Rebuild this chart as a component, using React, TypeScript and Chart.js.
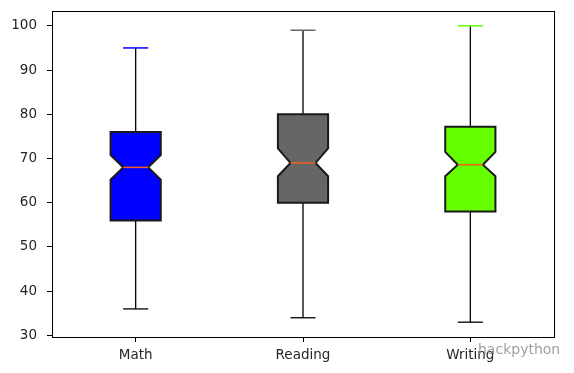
import React, { useEffect, useRef } from "react";
import { Chart, registerables } from "chart.js";

Chart.register(...registerables);

const categories = ["Math", "Reading", "Writing"];
const whiskerLow = [36, 34, 33];
const q1 = [56, 60, 58];
const notchLow = [65.2, 66, 66];
const median = [68, 69, 68.6];
const notchHigh = [70.8, 72.3, 71.5];
const q3 = [76, 80, 77.2];
const whiskerHigh = [95, 99, 100];
const fillColors = ["#0000ff", "#666666", "#66ff00"];
const yTicks = [30, 40, 50, 60, 70, 80, 90, 100];

const BOX_W = 0.3;

const boxPlugin = {
  id: "boxPlugin",
  afterDatasetsDraw(chart: any) {
    const { ctx, chartArea, scales } = chart;
    const xs = scales.x;
    const ys = scales.y;
    ctx.save();
    categories.forEach((_, i) => {
      const pos = i + 1;
      const cx = xs.getPixelForValue(pos);
      const xl = xs.getPixelForValue(pos - BOX_W / 2);
      const xr = xs.getPixelForValue(pos + BOX_W / 2);
      const nl = xs.getPixelForValue(pos - BOX_W / 4);
      const nr = xs.getPixelForValue(pos + BOX_W / 4);
      const cl = xs.getPixelForValue(pos - BOX_W / 4);
      const cr = xs.getPixelForValue(pos + BOX_W / 4);
      const yQ1 = ys.getPixelForValue(q1[i]);
      const yQ3 = ys.getPixelForValue(q3[i]);
      const yMed = ys.getPixelForValue(median[i]);
      const yNL = ys.getPixelForValue(notchLow[i]);
      const yNH = ys.getPixelForValue(notchHigh[i]);
      const yLo = ys.getPixelForValue(whiskerLow[i]);
      const yHi = ys.getPixelForValue(whiskerHigh[i]);

      // whiskers
      ctx.strokeStyle = "#000";
      ctx.lineWidth = 1.3;
      ctx.beginPath();
      ctx.moveTo(cx, yQ3);
      ctx.lineTo(cx, yHi);
      ctx.moveTo(cx, yQ1);
      ctx.lineTo(cx, yLo);
      ctx.stroke();
      // bottom cap
      ctx.beginPath();
      ctx.moveTo(cl, yLo);
      ctx.lineTo(cr, yLo);
      ctx.stroke();
      // top cap colored
      ctx.strokeStyle = fillColors[i];
      ctx.lineWidth = 1.5;
      ctx.beginPath();
      ctx.moveTo(cl, yHi);
      ctx.lineTo(cr, yHi);
      ctx.stroke();

      // notched box
      ctx.beginPath();
      ctx.moveTo(xl, yQ1);
      ctx.lineTo(xr, yQ1);
      ctx.lineTo(xr, yNL);
      ctx.lineTo(nr, yMed);
      ctx.lineTo(xr, yNH);
      ctx.lineTo(xr, yQ3);
      ctx.lineTo(xl, yQ3);
      ctx.lineTo(xl, yNH);
      ctx.lineTo(nl, yMed);
      ctx.lineTo(xl, yNL);
      ctx.closePath();
      ctx.fillStyle = fillColors[i];
      ctx.fill();
      ctx.strokeStyle = "#1a1a1a";
      ctx.lineWidth = 2;
      ctx.lineJoin = "miter";
      ctx.stroke();

      // median
      ctx.strokeStyle = "#f0601c";
      ctx.lineWidth = 1.5;
      ctx.beginPath();
      ctx.moveTo(nl, yMed);
      ctx.lineTo(nr, yMed);
      ctx.stroke();
    });

    // frame
    ctx.strokeStyle = "#000";
    ctx.lineWidth = 1;
    ctx.strokeRect(
      Math.round(chartArea.left) + 0.5,
      Math.round(chartArea.top) + 0.5,
      Math.round(chartArea.right - chartArea.left),
      Math.round(chartArea.bottom - chartArea.top)
    );

    // watermark
    ctx.font = "14px 'DejaVu Sans'";
    ctx.fillStyle = "rgba(150,150,150,0.9)";
    ctx.textBaseline = "middle";
    ctx.fillText("hackpython", 478, 350);
    ctx.restore();
  },
};

export default function App() {
  const ref = useRef<HTMLCanvasElement | null>(null);
  useEffect(() => {
    if (!ref.current) return;
    const font = { family: "'DejaVu Sans'", size: 13.5 };
    const chart = new Chart(ref.current, {
      type: "scatter",
      data: { datasets: [{ data: [], pointRadius: 0 }] },
      options: {
        animation: false,
        responsive: false,
        layout: { padding: { left: 0, right: 20, top: 11, bottom: 0 } },
        plugins: { legend: { display: false }, tooltip: { enabled: false } },
        scales: {
          x: {
            type: "linear",
            min: 0.5,
            max: 3.5,
            afterBuildTicks: (s: any) => {
              s.ticks = categories.map((_, i) => ({ value: i + 1 }));
            },
            afterFit: (s: any) => {
              s.height = 36;
              s.paddingLeft = 0;
              s.paddingRight = 0;
            },
            grid: { drawOnChartArea: false, drawTicks: true, tickLength: 5, color: "#000" },
            border: { display: true, color: "#000" },
            ticks: {
              font,
              color: "#262626",
              padding: 5,
              maxRotation: 0,
              callback: (v: any) => categories[Math.round(Number(v)) - 1] ?? "",
            },
          },
          y: {
            type: "linear",
            min: 29.65,
            max: 103.35,
            afterBuildTicks: (s: any) => {
              s.ticks = yTicks.map((v) => ({ value: v }));
            },
            afterFit: (s: any) => {
              s.width = 52;
              s.paddingTop = 0;
              s.paddingBottom = 0;
            },
            grid: { drawOnChartArea: false, drawTicks: true, tickLength: 5, color: "#000" },
            border: { display: true, color: "#000" },
            ticks: { font, color: "#262626", padding: 10 },
          },
        },
      },
      plugins: [boxPlugin],
    } as any);
    return () => chart.destroy();
  }, []);
  return (
    <div style={{ position: "absolute", left: 0, top: 0, width: 574, height: 373, background: "#fff" }}>
      <canvas ref={ref} width={574} height={373} style={{ width: 574, height: 373 }} />
    </div>
  );
}
